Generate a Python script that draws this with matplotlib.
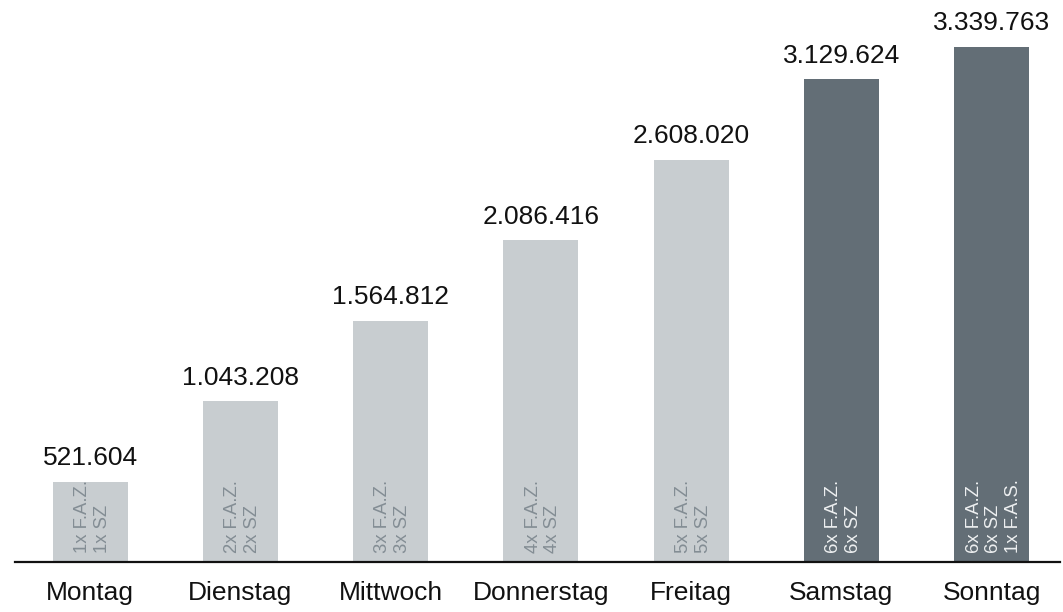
import matplotlib
matplotlib.use("Agg")
import matplotlib.pyplot as plt

days = ["Montag", "Dienstag", "Mittwoch", "Donnerstag", "Freitag", "Samstag", "Sonntag"]
values = [521604, 1043208, 1564812, 2086416, 2608020, 3129624, 3339763]
value_labels = ["521.604", "1.043.208", "1.564.812", "2.086.416", "2.608.020", "3.129.624", "3.339.763"]
inner_labels = ["1x F.A.Z.\n1x SZ", "2x F.A.Z.\n2x SZ", "3x F.A.Z.\n3x SZ",
                "4x F.A.Z.\n4x SZ", "5x F.A.Z.\n5x SZ", "6x F.A.Z.\n6x SZ",
                "6x F.A.Z.\n6x SZ\n1x F.A.S."]
dark = [False, False, False, False, False, True, True]

LIGHT = "#c8cdd0"
DARK = "#636e76"

plt.rcParams["font.family"] = ["Liberation Sans", "DejaVu Sans"]

W, H = 1063, 612
fig = plt.figure(figsize=(W / 100, H / 100), dpi=100)
ax = fig.add_axes([15 / W, 50 / H, (1060 - 15) / W, 562 / H])

x = list(range(len(days)))
colors = [DARK if d else LIGHT for d in dark]
ax.bar(x, values, width=0.5, color=colors, zorder=2)

ax.set_xlim(-0.5, 6.455)
ax.set_ylim(0, 3644600)

for xi, v, lab in zip(x, values, value_labels):
    ax.annotate(lab, (xi, v), xytext=(0, 8.3), textcoords="offset points",
                ha="center", va="bottom", fontsize=19, color="#111111")

for xi, lab, d in zip(x, inner_labels, dark):
    ax.annotate(lab, (xi, 0), xytext=(1.5, 6.5), textcoords="offset points",
                rotation=90, ha="center", va="bottom", multialignment="left",
                fontsize=13.3, color="#eef0f1" if d else "#838d94",
                linespacing=1.2)

for s in ["top", "right", "left"]:
    ax.spines[s].set_visible(False)
ax.spines["bottom"].set_linewidth(1.6)
ax.spines["bottom"].set_color("#111111")
ax.set_yticks([])
ax.set_xticks(x)
ax.set_xticklabels(days, fontsize=19, color="#111111")
ax.tick_params(axis="x", length=0, pad=14)

fig.savefig("out.png", dpi=100)
